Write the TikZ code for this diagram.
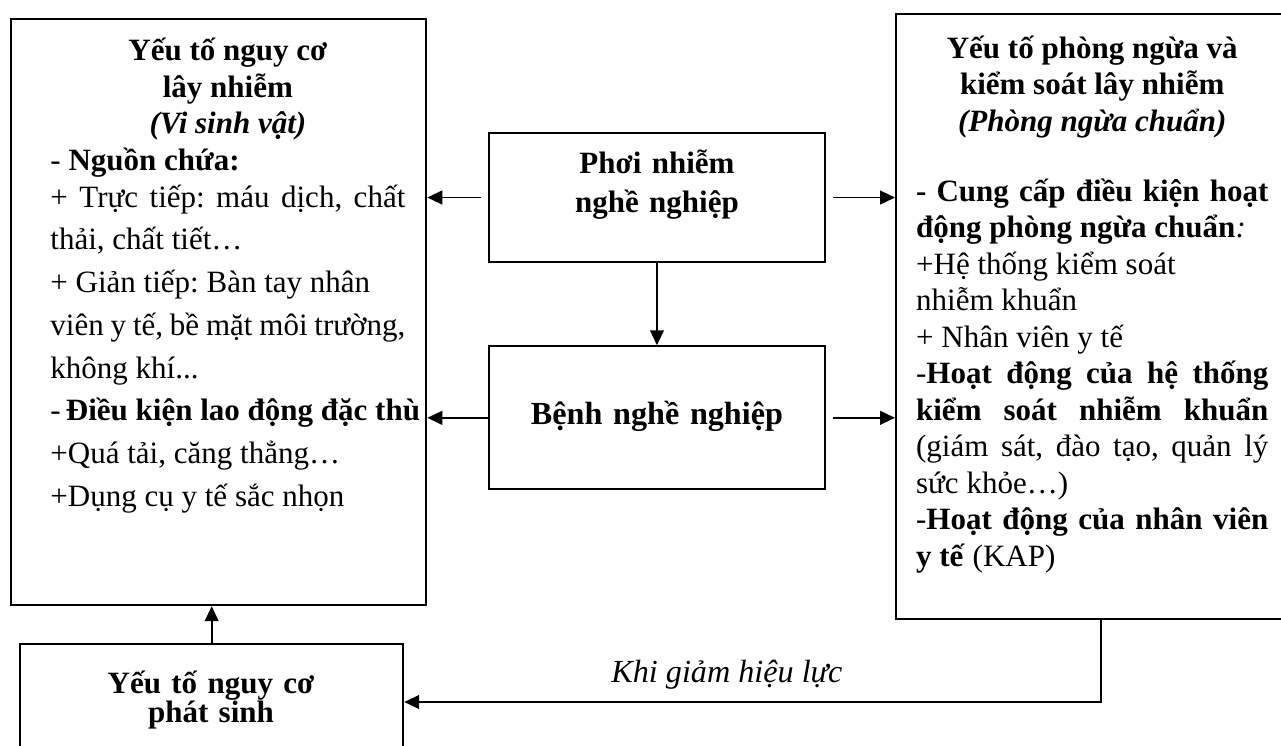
\documentclass[tikz,border=0pt]{standalone}
\usepackage{fontspec}
\setmainfont{Liberation Serif}
\usetikzlibrary{positioning,arrows.meta}
\frenchspacing

\begin{document}
\begin{tikzpicture}[
    box/.style={draw,line width=1pt},
    txt/.style={inner sep=0pt,font=\fontsize{13.5}{15.9}\selectfont},
    arr/.style={-{Triangle[length=6.5pt,width=6pt]},line width=.75pt}
  ]
  \clip (0,0) rectangle (19.6,-11.4);
  % boxes
  \node[box,anchor=north west,minimum width=6.35cm,minimum height=8.966cm] (risk) at (0.153,-0.275) {};
  \node[box,minimum width=5.141cm,minimum height=1.974cm] (expo) at (10.052,-3.022) {};
  \node[box,below=1.255cm of expo,minimum width=5.141cm,minimum height=2.188cm] (dis) {};
  \node[box,anchor=north west,minimum width=6.5cm,minimum height=9.256cm] (prev) at (13.694,-0.199) {};
  \node[box,anchor=north west,minimum width=5.86cm,minimum height=2cm] (arise) at (0.291,-9.838) {};
  % texts
  \node[txt,text width=5.43cm,align=justify,anchor=base west] (risktxt) at (0.765,-0.93) {%
    {\centering\bfseries Yếu tố nguy cơ\\ lây nhiễm\\ \textit{(Vi sinh vật)}\par}
    - \textbf{Nguồn chứa:}\par
    \vspace{-2.6pt}
    {\baselineskip=18.6pt + Trực tiếp: máu dịch, chất\linebreak thải, chất tiết…\\
    + Giản tiếp: Bàn tay nhân\\ viên y tế, bề mặt môi trường,\\ không khí...\\
    -~\mbox{\textbf{Điều kiện lao động đặc thù}}\\ +Quá tải, căng thẳng…\\ +Dụng cụ y tế sắc nhọn\par}};
  \node[txt,text width=5.39cm,align=justify,anchor=base west] (prevtxt) at (14.01,-0.89) {%
    {\centering\bfseries Yếu tố phòng ngừa và\\ kiểm soát lây nhiễm\\ \textit{(Phòng ngừa chuẩn)}\par}
    \vspace{14.5pt}
    \textbf{- Cung cấp điều kiện hoạt\linebreak động phòng ngừa chuẩn}\textit{:}\\
    +Hệ thống kiểm soát\\ nhiễm khuẩn\\ + Nhân viên y tế\\
    -\textbf{Hoạt động của hệ thống\linebreak kiểm soát nhiễm khuẩn}\linebreak (giám sát, đào tạo, quản lý\linebreak sức khỏe…)\\
    -\textbf{Hoạt động của nhân viên\linebreak y tế} (KAP)\par};
  \node[txt,text width=5cm,align=center,anchor=base,font=\bfseries\fontsize{13.5}{17}\selectfont] (expotxt) at (10.052,-2.65) {Phơi nhiễm\\ nghề nghiệp};
  \node[txt,text width=5cm,align=center,anchor=base,font=\bfseries\fontsize{14}{17}\selectfont] (distxt) at (10.052,-6.49) {Bệnh nghề nghiệp};
  \node[txt,text width=5.5cm,align=center,anchor=base,font=\bfseries\fontsize{13.5}{12.8}\selectfont] (arisetxt) at (3.228,-10.61) {Yếu tố nguy cơ\\ phát sinh};
  \node[inner sep=0pt,anchor=base,font=\itshape\fontsize{14}{16}\selectfont] (lbl) at (11.123,-10.45) {Khi giảm hiệu lực};
  % arrows
  \coordinate (fb) at (16.845,-10.741);
  \draw[arr,shorten <=1mm] (expo.west) -- (expo.west -| risk.east);
  \draw[arr,shorten <=1mm] (expo.east) -- (expo.east -| prev.west);
  \draw[arr] (expo) -- (dis);
  \draw[arr] (dis.west) -- (dis.west -| risk.east);
  \draw[arr,shorten <=1mm] (dis.east) -- (dis.east -| prev.west);
  \draw[arr] (arise.north) -- (arise.north |- risk.south);
  \draw[arr] (fb |- prev.south) -- (fb) -- (fb -| arise.east);
\end{tikzpicture}
\end{document}
